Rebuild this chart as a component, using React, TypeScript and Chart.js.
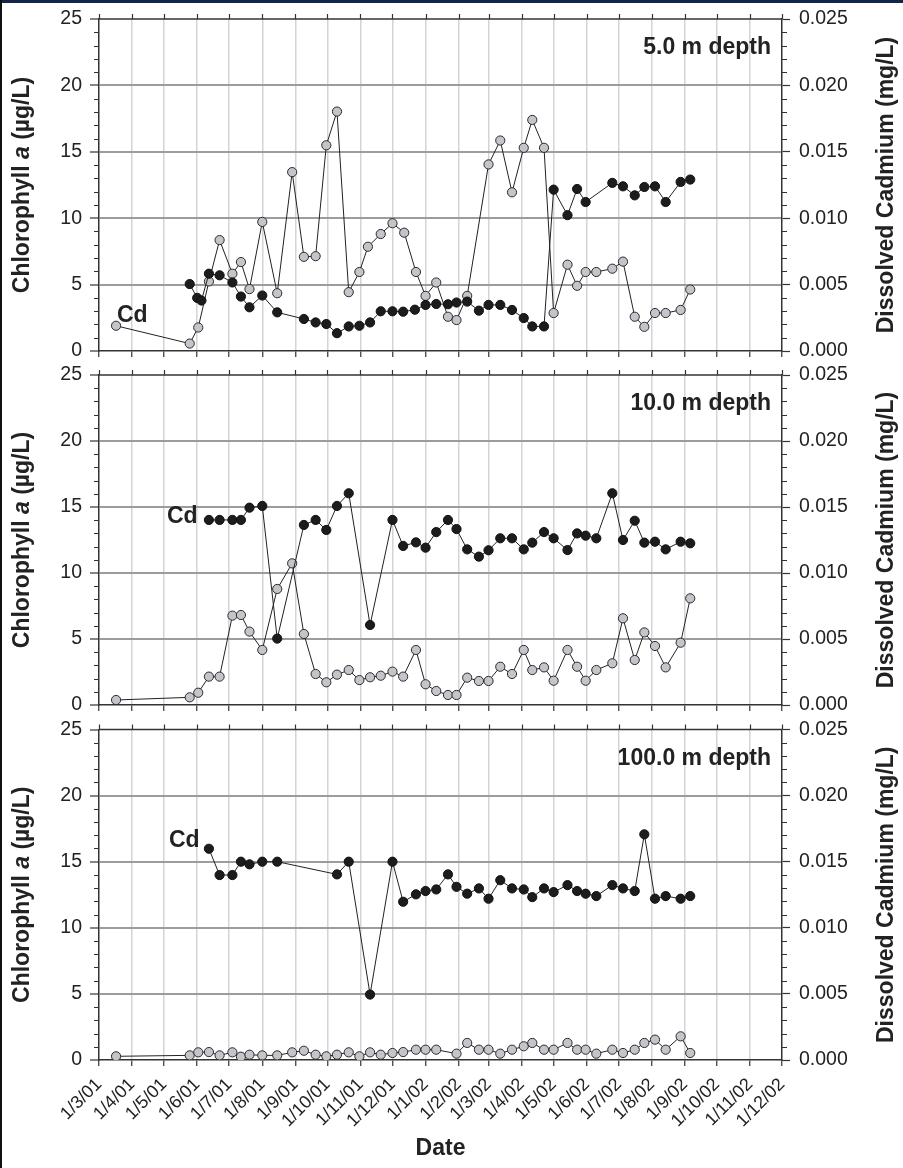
import React, { useEffect, useRef } from 'react';
import { Chart, registerables } from 'chart.js';

Chart.register(...registerables);

// ---------- axis ticks ----------
const monthTickDates = [
  '2001-03-01', '2001-04-01', '2001-05-01', '2001-06-01', '2001-07-01', '2001-08-01',
  '2001-09-01', '2001-10-01', '2001-11-01', '2001-12-01', '2002-01-01', '2002-02-01',
  '2002-03-01', '2002-04-01', '2002-05-01', '2002-06-01', '2002-07-01', '2002-08-01',
  '2002-09-01', '2002-10-01', '2002-11-01', '2002-12-01',
];
const xTickLabels = [
  '1/3/01', '1/4/01', '1/5/01', '1/6/01', '1/7/01', '1/8/01', '1/9/01', '1/10/01',
  '1/11/01', '1/12/01', '1/1/02', '1/2/02', '1/3/02', '1/4/02', '1/5/02', '1/6/02',
  '1/7/02', '1/8/02', '1/9/02', '1/10/02', '1/11/02', '1/12/02',
];
const panelLabels = ['5.0 m depth', '10.0 m depth', '100.0 m depth'];

// ---------- 5.0 m ----------
const p1ChlDates = [
  '2001-03-17', '2001-05-25', '2001-06-02', '2001-06-12', '2001-06-22', '2001-07-04', '2001-07-12',
  '2001-07-20', '2001-08-01', '2001-08-15', '2001-08-29', '2001-09-09', '2001-09-20', '2001-09-30',
  '2001-10-10', '2001-10-21', '2001-10-31', '2001-11-08', '2001-11-20', '2001-12-01', '2001-12-12',
  '2001-12-23', '2002-01-01', '2002-01-11', '2002-01-22', '2002-01-30', '2002-02-09', '2002-03-01',
  '2002-03-12', '2002-03-23', '2002-04-03', '2002-04-11', '2002-04-22', '2002-05-01', '2002-05-14',
  '2002-05-23', '2002-05-31', '2002-06-10', '2002-06-25', '2002-07-05', '2002-07-16', '2002-07-25',
  '2002-08-04', '2002-08-14', '2002-08-28', '2002-09-06',
];
const p1ChlValues = [
  1.9, 0.56, 1.77, 5.24, 8.35, 5.82, 6.7,
  4.66, 9.72, 4.35, 13.47, 7.09, 7.14, 15.49,
  18.03, 4.43, 5.95, 7.85, 8.81, 9.62, 8.91,
  5.95, 4.15, 5.16, 2.58, 2.33, 4.15, 14.05,
  15.85, 11.95, 15.3, 17.4, 15.3, 2.86, 6.5,
  4.91, 5.95, 5.95, 6.2, 6.73, 2.58, 1.82,
  2.86, 2.86, 3.09, 4.63,
];
const p1CdDates = [
  '2001-05-25', '2001-06-01', '2001-06-05', '2001-06-12', '2001-06-22', '2001-07-04', '2001-07-12',
  '2001-07-20', '2001-08-01', '2001-08-15', '2001-09-09', '2001-09-20', '2001-09-30', '2001-10-10',
  '2001-10-21', '2001-10-31', '2001-11-10', '2001-11-20', '2001-12-01', '2001-12-11', '2001-12-22',
  '2002-01-01', '2002-01-11', '2002-01-22', '2002-01-30', '2002-02-09', '2002-02-20', '2002-03-01',
  '2002-03-12', '2002-03-23', '2002-04-03', '2002-04-11', '2002-04-22', '2002-05-01', '2002-05-14',
  '2002-05-23', '2002-05-31', '2002-06-25', '2002-07-05', '2002-07-16', '2002-07-25', '2002-08-04',
  '2002-08-14', '2002-08-28', '2002-09-06',
];
const p1CdValues = [
  0.00504, 0.0040, 0.0038, 0.00582, 0.0057, 0.00516, 0.0041,
  0.00329, 0.00418, 0.00291, 0.00241, 0.00215, 0.00203, 0.00134,
  0.00185, 0.0019, 0.00215, 0.00299, 0.00299, 0.00296, 0.00311,
  0.00347, 0.00354, 0.00352, 0.00365, 0.00372, 0.00304, 0.00347,
  0.00347, 0.00309, 0.00248, 0.00185, 0.00185, 0.01215, 0.01023,
  0.0122, 0.01122, 0.01266, 0.0124, 0.01172, 0.01235, 0.0124,
  0.01122, 0.01273, 0.01291,
];

// ---------- 10.0 m ----------
const p2ChlDates = [
  '2001-03-17', '2001-05-25', '2001-06-02', '2001-06-12', '2001-06-22', '2001-07-04', '2001-07-12',
  '2001-07-20', '2001-08-01', '2001-08-15', '2001-08-29', '2001-09-09', '2001-09-20', '2001-09-30',
  '2001-10-10', '2001-10-21', '2001-10-31', '2001-11-10', '2001-11-20', '2001-12-01', '2001-12-11',
  '2001-12-23', '2002-01-01', '2002-01-11', '2002-01-22', '2002-01-30', '2002-02-09', '2002-02-20',
  '2002-03-01', '2002-03-12', '2002-03-23', '2002-04-03', '2002-04-11', '2002-04-22', '2002-05-01',
  '2002-05-14', '2002-05-23', '2002-05-31', '2002-06-10', '2002-06-25', '2002-07-05', '2002-07-16',
  '2002-07-25', '2002-08-04', '2002-08-14', '2002-08-28', '2002-09-06',
];
const p2ChlValues = [
  0.38, 0.58, 0.93, 2.15, 2.15, 6.77, 6.82,
  5.56, 4.17, 8.79, 10.73, 5.38, 2.35, 1.72,
  2.3, 2.65, 1.89, 2.1, 2.22, 2.53, 2.15,
  4.17, 1.57, 1.06, 0.76, 0.76, 2.07, 1.82,
  1.82, 2.9, 2.35, 4.17, 2.65, 2.85, 1.84,
  4.17, 2.9, 1.84, 2.65, 3.16, 6.57, 3.41,
  5.5, 4.47, 2.85, 4.72, 8.08,
];
const p2CdDates = [
  '2001-06-12', '2001-06-22', '2001-07-04', '2001-07-12', '2001-07-20', '2001-08-01', '2001-08-15',
  '2001-09-09', '2001-09-20', '2001-09-30', '2001-10-10', '2001-10-21', '2001-11-10', '2001-12-01',
  '2001-12-11', '2001-12-23', '2002-01-01', '2002-01-11', '2002-01-22', '2002-01-30', '2002-02-09',
  '2002-02-20', '2002-03-01', '2002-03-12', '2002-03-23', '2002-04-03', '2002-04-11', '2002-04-22',
  '2002-05-01', '2002-05-14', '2002-05-23', '2002-05-31', '2002-06-10', '2002-06-25', '2002-07-05',
  '2002-07-16', '2002-07-25', '2002-08-04', '2002-08-14', '2002-08-28', '2002-09-06',
];
const p2CdValues = [
  0.01402, 0.01402, 0.01402, 0.01402, 0.01495, 0.01508, 0.00503,
  0.01364, 0.01402, 0.01326, 0.01508, 0.01604, 0.00606, 0.01402,
  0.01205, 0.01232, 0.01192, 0.0131, 0.01402, 0.01333, 0.01179,
  0.01124, 0.01172, 0.01263, 0.01263, 0.01179, 0.0123, 0.0131,
  0.01263, 0.01174, 0.0130, 0.01283, 0.01263, 0.01604, 0.0125,
  0.01396, 0.0123, 0.01237, 0.01179, 0.01237, 0.01225,
];

// ---------- 100.0 m ----------
const p3ChlDates = [
  '2001-03-17', '2001-05-25', '2001-06-02', '2001-06-12', '2001-06-22', '2001-07-04', '2001-07-12',
  '2001-07-20', '2001-08-01', '2001-08-15', '2001-08-29', '2001-09-09', '2001-09-20', '2001-09-30',
  '2001-10-10', '2001-10-21', '2001-10-31', '2001-11-10', '2001-11-20', '2001-12-01', '2001-12-11',
  '2001-12-23', '2002-01-01', '2002-01-11', '2002-01-30', '2002-02-09', '2002-02-20', '2002-03-01',
  '2002-03-12', '2002-03-23', '2002-04-03', '2002-04-11', '2002-04-22', '2002-05-01', '2002-05-14',
  '2002-05-23', '2002-05-31', '2002-06-10', '2002-06-25', '2002-07-05', '2002-07-16', '2002-07-25',
  '2002-08-04', '2002-08-14', '2002-08-28', '2002-09-06',
];
const p3ChlValues = [
  0.28, 0.35, 0.58, 0.6, 0.35, 0.58, 0.25,
  0.4, 0.35, 0.35, 0.58, 0.7, 0.4, 0.28,
  0.4, 0.58, 0.28, 0.58, 0.4, 0.53, 0.6,
  0.78, 0.78, 0.78, 0.48, 1.29, 0.78, 0.78,
  0.48, 0.78, 1.04, 1.29, 0.78, 0.78, 1.29,
  0.78, 0.78, 0.48, 0.78, 0.53, 0.78, 1.29,
  1.54, 0.78, 1.79, 0.53,
];
const p3CdDates = [
  '2001-06-12', '2001-06-22', '2001-07-04', '2001-07-12', '2001-07-20', '2001-08-01', '2001-08-15',
  '2001-10-10', '2001-10-21', '2001-11-10', '2001-12-01', '2001-12-11', '2001-12-23', '2002-01-01',
  '2002-01-11', '2002-01-22', '2002-01-30', '2002-02-09', '2002-02-20', '2002-03-01', '2002-03-12',
  '2002-03-23', '2002-04-03', '2002-04-11', '2002-04-22', '2002-05-01', '2002-05-14', '2002-05-23',
  '2002-05-31', '2002-06-10', '2002-06-25', '2002-07-05', '2002-07-16', '2002-07-25', '2002-08-04',
  '2002-08-14', '2002-08-28', '2002-09-06',
];
const p3CdValues = [
  0.01598, 0.01399, 0.01399, 0.0150, 0.0148, 0.0150, 0.0150,
  0.01404, 0.0150, 0.00495, 0.0150, 0.01197, 0.01253, 0.01278,
  0.0129, 0.01404, 0.0131, 0.01258, 0.01298, 0.0122, 0.0136,
  0.01298, 0.0129, 0.01232, 0.01298, 0.0127, 0.01323, 0.01278,
  0.01258, 0.0124, 0.01323, 0.01298, 0.01278, 0.01707, 0.0122,
  0.0124, 0.0122, 0.0124,
];

// ---------- helpers ----------
const START = Date.UTC(2001, 2, 1);
const toDay = (s: string) => {
  const [y, m, d] = s.split('-').map(Number);
  return (Date.UTC(y, m - 1, d) - START) / 86400000;
};
const monthDays = monthTickDates.map(toDay);
const X_MIN = monthDays[0];
const X_MAX = monthDays[monthDays.length - 1];

const W = 903;
const H = 1168;
const FONT = '"Liberation Sans", Arial, Helvetica, sans-serif';
const TEXT = '#222';
const AXIS = '#333';

const panels = [
  { top: 19, bottom: 351, label: panelLabels[0], cd: [117, 322], chlD: p1ChlDates, chlV: p1ChlValues, cdD: p1CdDates, cdV: p1CdValues, showX: false },
  { top: 375, bottom: 705, label: panelLabels[1], cd: [167, 523], chlD: p2ChlDates, chlV: p2ChlValues, cdD: p2CdDates, cdV: p2CdValues, showX: false },
  { top: 729.5, bottom: 1060, label: panelLabels[2], cd: [169, 847], chlD: p3ChlDates, chlV: p3ChlValues, cdD: p3CdDates, cdV: p3CdValues, showX: true },
];

function makeDecor(p: any) {
  return {
    id: 'decor',
    afterDraw(chart: any) {
      const ctx = chart.ctx;
      const a = chart.chartArea;
      const ys = chart.scales.y;
      const xs = chart.scales.x;
      ctx.save();
      ctx.strokeStyle = AXIS;
      ctx.lineWidth = 1.5;
      // top spine
      ctx.beginPath();
      ctx.moveTo(a.left, a.top);
      ctx.lineTo(a.right, a.top);
      ctx.stroke();
      // top ticks at month positions
      ctx.lineWidth = 1.2;
      ctx.beginPath();
      for (const d of monthDays) {
        const x = Math.round(xs.getPixelForValue(d)) + 0.5;
        ctx.moveTo(x, a.top);
        ctx.lineTo(x, a.top - 5);
      }
      // minor ticks on both y axes
      for (let v = 0; v <= 25; v++) {
        if (v % 5 === 0) continue;
        const y = Math.round(ys.getPixelForValue(v)) + 0.5;
        ctx.moveTo(a.left - 5, y);
        ctx.lineTo(a.left, y);
        ctx.moveTo(a.right, y);
        ctx.lineTo(a.right + 5, y);
      }
      ctx.stroke();

      ctx.fillStyle = TEXT;
      const mid = (a.top + a.bottom) / 2;
      // left title with italic "a"
      ctx.save();
      ctx.translate(29, mid);
      ctx.rotate(-Math.PI / 2);
      ctx.textBaseline = 'alphabetic';
      ctx.textAlign = 'left';
      const parts: [string, string][] = [
        ['Chlorophyll ', `bold 23px ${FONT}`],
        ['a', `italic bold 23px ${FONT}`],
        [' (µg/L)', `bold 23px ${FONT}`],
      ];
      let total = 0;
      const widths = parts.map(([t, f]) => {
        ctx.font = f;
        const w = ctx.measureText(t).width;
        total += w;
        return w;
      });
      let x0 = -total / 2;
      parts.forEach(([t, f], i) => {
        ctx.font = f;
        ctx.fillText(t, x0, 0);
        x0 += widths[i];
      });
      ctx.restore();

      // right title
      ctx.save();
      ctx.translate(893, mid);
      ctx.rotate(-Math.PI / 2);
      ctx.textAlign = 'center';
      ctx.textBaseline = 'alphabetic';
      ctx.font = `bold 23px ${FONT}`;
      ctx.fillText('Dissolved Cadmium (mg/L)', 0, 0);
      ctx.restore();

      // depth label
      ctx.font = `bold 23px ${FONT}`;
      ctx.textAlign = 'right';
      ctx.textBaseline = 'alphabetic';
      ctx.fillText(p.label, 771, a.top + 35);
      // Cd label
      ctx.textAlign = 'left';
      ctx.fillText('Cd', p.cd[0], p.cd[1]);

      if (p.showX) {
        ctx.textAlign = 'center';
        ctx.fillText('Date', (a.left + a.right) / 2, 1155);
      }
      ctx.restore();
    },
  };
}

function Panel({ p }: { p: any }) {
  const ref = useRef<HTMLCanvasElement | null>(null);
  useEffect(() => {
    if (!ref.current) return;
    const chl = p.chlD.map((d: string, i: number) => ({ x: toDay(d), y: p.chlV[i] }));
    const cd = p.cdD.map((d: string, i: number) => ({ x: toDay(d), y: p.cdV[i] }));
    const chart = new Chart(ref.current, {
      type: 'line',
      data: {
        datasets: [
          {
            label: 'Cd',
            data: cd,
            yAxisID: 'y1',
            borderColor: '#222',
            borderWidth: 1,
            pointRadius: 4.6,
            pointBackgroundColor: '#1c1c1c',
            pointBorderColor: '#111',
            pointBorderWidth: 1,
            tension: 0,
          },
          {
            label: 'Chlorophyll a',
            data: chl,
            yAxisID: 'y',
            borderColor: '#222',
            borderWidth: 1,
            pointRadius: 4.6,
            pointBackgroundColor: '#c3c5ca',
            pointBorderColor: '#2a2a2a',
            pointBorderWidth: 1,
            tension: 0,
          },
        ],
      },
      options: {
        animation: false,
        responsive: false,
        maintainAspectRatio: false,
        devicePixelRatio: 1,
        events: [],
        layout: { padding: { top: p.top, left: 0, right: 0, bottom: 0 } },
        plugins: { legend: { display: false }, tooltip: { enabled: false } },
        scales: {
          x: {
            type: 'linear',
            position: 'bottom',
            min: X_MIN,
            max: X_MAX,
            afterFit: (s: any) => { s.height = H - p.bottom; },
            afterBuildTicks: (s: any) => { s.ticks = monthDays.map((v) => ({ value: v })); },
            ticks: {
              display: p.showX,
              autoSkip: false,
              minRotation: 45,
              maxRotation: 45,
              padding: 6,
              color: TEXT,
              font: { family: FONT, size: 18, lineHeight: 1.5 },
              callback: (_v: any, i: number) => xTickLabels[i],
            },
            grid: {
              color: (c: any) => (c.tick && (c.tick.value === X_MIN || c.tick.value === X_MAX) ? 'rgba(0,0,0,0)' : '#d3d3da'),
              lineWidth: 1.5,
              drawTicks: true,
              tickLength: 6,
              tickColor: AXIS,
              tickWidth: 1.2,
            },
            border: { display: true, color: AXIS, width: 1.5 },
          },
          y: {
            position: 'left',
            min: 0,
            max: 25,
            afterFit: (s: any) => { s.width = 99; },
            ticks: { stepSize: 5, padding: 8, color: TEXT, font: { family: FONT, size: 19.5, lineHeight: 1.0 } },
            grid: {
              color: (c: any) => (c.tick && (c.tick.value === 0 || c.tick.value === 25) ? 'rgba(0,0,0,0)' : '#9c9c9c'),
              lineWidth: 2,
              drawTicks: true,
              tickLength: 9,
              tickColor: AXIS,
              tickWidth: 1.2,
            },
            border: { display: true, color: AXIS, width: 1.5 },
          },
          y1: {
            position: 'right',
            min: 0,
            max: 0.025,
            afterFit: (s: any) => { s.width = W - 782; },
            ticks: {
              stepSize: 0.005,
              padding: 9,
              color: TEXT,
              font: { family: FONT, size: 19.5, lineHeight: 1.0 },
              callback: (v: any) => Number(v).toFixed(3),
            },
            grid: { drawOnChartArea: false, drawTicks: true, tickLength: 8, tickColor: AXIS, tickWidth: 1.2 },
            border: { display: true, color: AXIS, width: 1.5 },
          },
        },
      },
      plugins: [makeDecor(p)],
    } as any);
    return () => chart.destroy();
  }, []);
  return (
    <canvas
      ref={ref}
      width={W}
      height={H}
      style={{ position: 'absolute', left: 0, top: 0, width: W, height: H }}
    />
  );
}

export default function App() {
  return (
    <div style={{ position: 'absolute', left: 0, top: 0, width: W, height: H, background: '#fff', overflow: 'hidden' }}>
      {panels.map((p, i) => (
        <Panel key={i} p={p} />
      ))}
      <div style={{ position: 'absolute', left: 0, top: 0, width: W, height: 3, background: '#14254a' }} />
      <div style={{ position: 'absolute', left: 0, top: 0, width: 2, height: H, background: '#111' }} />
    </div>
  );
}
